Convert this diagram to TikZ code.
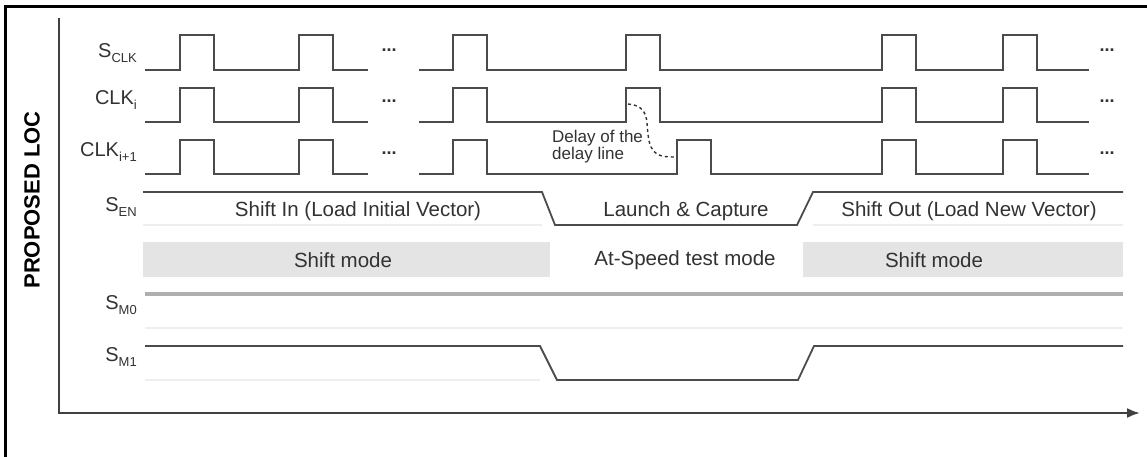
\documentclass[tikz,border=0pt]{standalone}
\usepackage{fontspec}
\setmainfont{Liberation Sans}
\usetikzlibrary{arrows.meta, positioning}
\definecolor{locInk}{RGB}{50,50,50}
\definecolor{locWire}{RGB}{75,75,75}
\definecolor{locBand}{RGB}{228,228,228}
\definecolor{locFaint}{RGB}{238,238,238}
\definecolor{locBus}{RGB}{175,175,175}
\newcommand{\sig}[2]{#1\raisebox{-0.4ex}{\fontsize{13}{13}\selectfont #2}}

\begin{document}
\begin{tikzpicture}[x=1pt, y=-1pt,
      wave/.style={draw=locWire, line width=2pt, line join=miter},
      faint/.style={draw=locFaint, line width=1.5pt},
      bus/.style={draw=locBus, line width=3.5pt},
      axis/.style={draw=black!75, line width=2.2pt, -{Latex[length=13pt,width=10pt]}},
      siglabel/.style={anchor=east, inner sep=0pt, font=\fontsize{20}{22}\selectfont, text=locInk},
      phase/.style={inner sep=0pt, font=\fontsize{20.5}{24}\selectfont, text=locInk},
      dots/.style={inner sep=0pt, font=\fontsize{18}{18}\selectfont\bfseries, text=locInk}
    ]
    \useasboundingbox (0,0) rectangle (1147,456);
    \draw[line width=3pt] (5,460) -- (5,6) -- (1150,6);

    \coordinate (ytop) at (59,18);
    \coordinate (origin) at (59,413);
    \coordinate (xend) at (1140,413);
    \draw[axis] (ytop) -- (origin) -- (xend);
    \node[rotate=90, inner sep=0pt, font=\fontsize{22}{22}\selectfont\bfseries] (title) at (32,200) {PROPOSED LOC};

    \foreach \hi/\lo/\sh in {35/70/626, 88/122/626, 140/174/677} {
      \draw[wave] (145,\lo) foreach \p in {180,299} { -- (\p,\lo) -- (\p,\hi) -- (\p+34,\hi) -- (\p+34,\lo) } -- (368,\lo);
      \draw[wave] (419,\lo) foreach \p in {453,\sh,882,1003} { -- (\p,\lo) -- (\p,\hi) -- (\p+34,\hi) -- (\p+34,\lo) } -- (1089,\lo);
    }
    \foreach \y [count=\i] in {50,101,153} {
      \node[dots] (dotsl\i) at (389,\y) {...};
      \node[dots] (dotsr\i) at (1107,\y) {...};
    }

    \node[siglabel] (sclk) at (137,53) {\sig{S}{CLK}};
    \node[siglabel] (clki) at (137,100) {\sig{CLK}{i}};
    \node[siglabel] (clkn) at (137,152) {\sig{CLK}{i+1}};
    \node[siglabel] (sen) at (137,207) {\sig{S}{EN}};
    \node[siglabel] (smzero) at (137,305) {\sig{S}{M0}};
    \node[siglabel] (smone) at (137,357) {\sig{S}{M1}};

    \coordinate (dstart) at (628,104);
    \coordinate (dend) at (675,157);
    \draw[draw=locInk, line width=1.4pt, dashed] (dstart) .. controls (650,106) and (646,122) .. (648,134) .. controls (650,156) and (660,157) .. (dend);
    \node[inner sep=0pt, anchor=north west, align=left, font=\fontsize{17}{17}\selectfont, text=locInk] (delay) at (552,130) {Delay of the\\delay line};

    \draw[faint] (143,225) -- (542,225);
    \draw[faint] (813,225) -- (1123,225);
    \draw[wave, line width=1.8pt] (143,192) -- (542,192) -- (555,225) -- (797,225) -- (813,192) -- (1123,192);
    \node[phase] (shiftin) at (358,211) {Shift In (Load Initial Vector)};
    \node[phase] (launch) at (686,211) {Launch \& Capture};
    \node[phase] (shiftout) at (969,211) {Shift Out (Load New Vector)};

    \fill[locBand] (143,242) rectangle (550,277);
    \fill[locBand] (803,242) rectangle (1123,277);
    \node[phase] (modea) at (343,260) {Shift mode};
    \node[phase] (modeb) at (685,260) {At-Speed test mode};
    \node[phase] (modec) at (934,260) {Shift mode};

    \draw[bus] (145,294) -- (1123,294);
    \draw[faint] (145,328) -- (1123,328);
    \draw[faint] (145,380) -- (540,380);
    \draw[wave, line width=1.8pt] (145,346) -- (540,346) -- (557,380) -- (798,380) -- (814,346) -- (1123,346);
  \end{tikzpicture}
\end{document}
